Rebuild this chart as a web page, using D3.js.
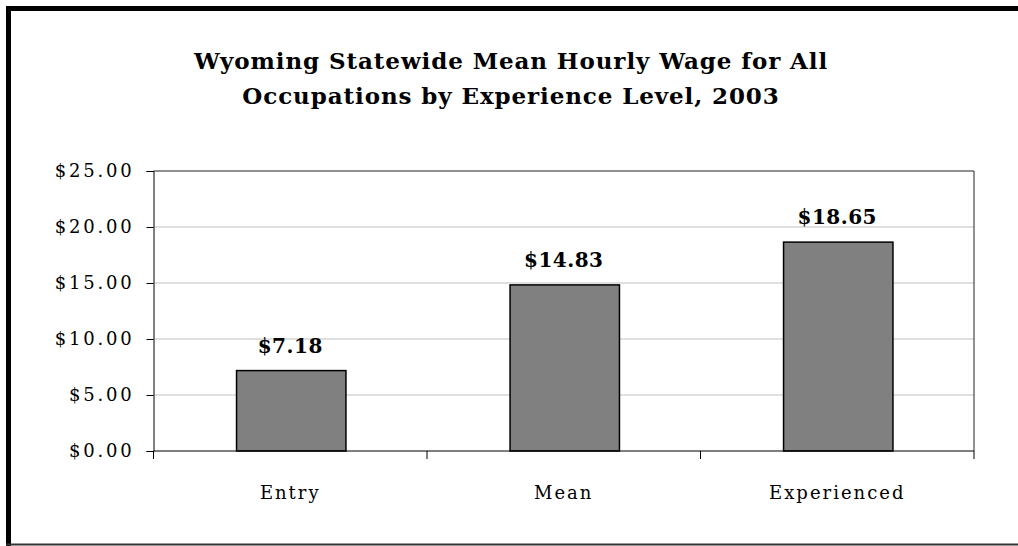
<!DOCTYPE html>
<html>
<head>
<meta charset="utf-8">
<script src="https://cdn.jsdelivr.net/npm/d3@7"></script>
<style>
  body { margin: 0; background: #fff; }
  svg { display: block; }
  text { font-family: "DejaVu Serif", "Liberation Serif", serif; fill: #000; }
</style>
</head>
<body>
<div id="chart"></div>
<script>
// data
var categories = ['Entry', 'Mean', 'Experienced'];
var wages = [7.18, 14.83, 18.65];
var yTicks = [0, 5, 10, 15, 20, 25];
var titleLines = ['Wyoming Statewide Mean Hourly Wage for All',
                  'Occupations by Experience Level, 2003'];

var W = 1018, H = 546;
var margin = {top: 171, right: 44, bottom: 95, left: 153.5},
    width = W - margin.left - margin.right,
    height = H - margin.top - margin.bottom;

var svg = d3.select('#chart').append('svg')
    .attr('width', W)
    .attr('height', H);

// outer frame
svg.append('line').attr('x1', 8.5).attr('x2', 8.5).attr('y1', 6).attr('y2', 546)
  .attr('stroke', '#000').attr('stroke-width', 5);
svg.append('line').attr('x1', 6).attr('x2', 1018).attr('y1', 8.5).attr('y2', 8.5)
  .attr('stroke', '#000').attr('stroke-width', 5);
svg.append('line').attr('x1', 6).attr('x2', 1018).attr('y1', 544.5).attr('y2', 544.5)
  .attr('stroke', '#333').attr('stroke-width', 2);

// title
svg.selectAll('.title')
  .data(titleLines)
  .enter().append('text')
    .attr('class', 'title')
    .attr('x', 511)
    .attr('y', function(d, i) { return 69 + i * 35; })
    .attr('text-anchor', 'middle')
    .style('font-size', '23px')
    .style('font-weight', 'bold')
    .style('letter-spacing', '0.9px')
    .text(function(d) { return d; });

var g = svg.append('g')
    .attr('transform', 'translate(' + margin.left + ',' + margin.top + ')');

var x = d3.scaleBand().domain(categories).range([0, width]).padding(0);
var y = d3.scaleLinear().domain([0, 25]).range([height, 0]);

// gridlines
g.selectAll('.grid')
  .data(yTicks.slice(1, -1))
  .enter().append('line')
    .attr('x1', 0).attr('x2', width)
    .attr('y1', function(d) { return y(d); })
    .attr('y2', function(d) { return y(d); })
    .attr('stroke', '#c0c0c0')
    .attr('stroke-width', 1);

// plot border (top + right)
g.append('path')
  .attr('d', 'M0,0H' + width + 'V' + height)
  .attr('fill', 'none')
  .attr('stroke', '#222')
  .attr('stroke-width', 1);

// bars
var barW = x.bandwidth() * 0.4;
g.selectAll('.bar')
  .data(wages)
  .enter().append('rect')
    .attr('class', 'bar')
    .attr('x', function(d, i) { return x(categories[i]) + (x.bandwidth() - barW) / 2 + 1; })
    .attr('y', function(d) { return y(d); })
    .attr('width', barW)
    .attr('height', function(d) { return height - y(d); })
    .attr('fill', '#808080')
    .attr('stroke', '#000')
    .attr('stroke-width', 1.5);

// value labels
g.selectAll('.val')
  .data(wages)
  .enter().append('text')
    .attr('x', function(d, i) { return x(categories[i]) + x.bandwidth() / 2; })
    .attr('y', function(d) { return y(d) - 18; })
    .attr('text-anchor', 'middle')
    .style('font-size', '20px')
    .style('font-weight', 'bold')
    .style('letter-spacing', '0.5px')
    .text(function(d) { return '$' + d.toFixed(2); });

// y axis
var yAxis = d3.axisLeft(y)
  .tickValues(yTicks)
  .tickSizeOuter(0)
  .tickSize(7)
  .tickPadding(12)
  .tickFormat(function(d) { return '$' + d.toFixed(2); });

var ya = g.append('g').call(yAxis);
ya.select('.domain').attr('stroke', '#000');
ya.selectAll('.tick line').attr('stroke', '#000');
ya.selectAll('.tick text')
  .style('font-size', '18px')
  .style('letter-spacing', '2.8px')
  .attr('font-family', null)
  .attr('fill', '#000');

// x axis: baseline + boundary ticks
var xa = g.append('g').attr('transform', 'translate(0,' + height + ')');
xa.append('line').attr('x1', 0).attr('x2', width).attr('stroke', '#000');
var bounds = categories.map(function(c) { return x(c); }).concat([width]);
xa.selectAll('.xt')
  .data(bounds)
  .enter().append('line')
    .attr('x1', function(d) { return d; }).attr('x2', function(d) { return d; })
    .attr('y1', 0).attr('y2', 8)
    .attr('stroke', '#000');
xa.selectAll('.xl')
  .data(categories)
  .enter().append('text')
    .attr('x', function(d) { return x(d) + x.bandwidth() / 2; })
    .attr('y', 48)
    .attr('text-anchor', 'middle')
    .style('font-size', '18px')
    .style('letter-spacing', '2px')
    .text(function(d) { return d; });
</script>
</body>
</html>
